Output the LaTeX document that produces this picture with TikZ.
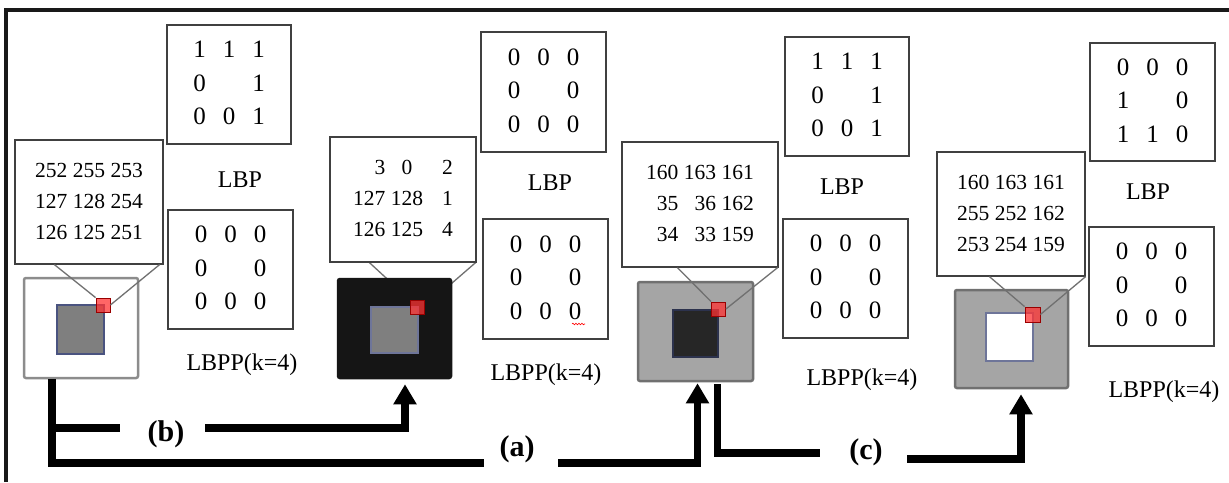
\documentclass[tikz,border=0pt]{standalone}
\usepackage{fontspec}
\setmainfont{Liberation Serif}
\usetikzlibrary{arrows.meta,calc,decorations.pathmorphing}

\newcommand{\bitmat}[8]{{\fontsize{25}{33.5}\selectfont\begin{tabular}{@{}c@{\hspace{17pt}}c@{\hspace{17pt}}c@{}}#1&#2&#3\\#4&&#5\\#6&#7&#8\end{tabular}}}
\newcommand{\pixmat}[1]{{\fontsize{21.5}{31}\selectfont\begin{tabular}{@{}r@{\hspace{5.5pt}}r@{\hspace{5.5pt}}r@{}}#1\end{tabular}}}
\newcommand{\pixmatb}[1]{{\fontsize{21.5}{31}\selectfont\begin{tabular}{@{}r@{\hspace{5.5pt}}c@{\hspace{19pt}}c@{}}#1\end{tabular}}}

\definecolor{imgborder}{HTML}{8C8C8C}
\definecolor{midgray}{HTML}{7F7F7F}
\definecolor{bluegray}{HTML}{4A5380}
\definecolor{nearblack}{HTML}{151515}
\definecolor{lightgray}{HTML}{A5A5A5}
\definecolor{darkborder}{HTML}{707070}
\definecolor{innerdark}{HTML}{262626}
\definecolor{callout}{HTML}{707070}

\pgfdeclarelayer{bglayer}
\pgfsetlayers{bglayer,main}

\tikzset{
  box/.style={draw=black!75, line width=1.2pt, inner sep=0pt, fill=white},
  matbox/.style={box, minimum width=124pt, minimum height=119pt},
  pixbox/.style={box, minimum height=124pt},
  lbltext/.style={font=\fontsize{24}{28}\selectfont, inner sep=0pt},
  tag/.style={font=\fontsize{30}{34}\selectfont\bfseries, inner sep=0pt},
  imgbox/.style={minimum width=113pt, minimum height=99pt, line width=2.5pt, rounded corners=2pt, inner sep=0pt},
  innerbox/.style={minimum width=47pt, minimum height=47pt, line width=1.3pt, inner sep=0pt},
  redbox/.style={minimum size=14pt, inner sep=0pt, fill=red!80!white, fill opacity=0.75, draw=red!60!black, line width=0.8pt},
  calloutline/.style={draw=callout, line width=1.3pt},
  conn/.style={line width=7.5pt, line join=miter, black},
  arr/.style={-{Triangle[width=22pt,length=20pt]}}
}

\begin{document}
\begin{tikzpicture}[x=1pt,y=-1pt]
\useasboundingbox (0,0) rectangle (1229,482);
\begin{pgfonlayer}{bglayer}
\fill[white] (0,0) rectangle (1229,482);
\end{pgfonlayer}

% frame (top and left edges)
\draw[line width=3.5pt, black!90] (6,482) -- (6,10) -- (1229,10);

% ---------- panel 1 ----------
\node[matbox] (lbp1) at (229,84.5) {\bitmat{1}{1}{1}{0}{1}{0}{0}{1}};
\node[pixbox, minimum width=148pt] (num1) at (89,202) {\pixmat{252&255&253\\127&128&254\\126&125&251}};
\node[matbox, minimum width=125pt] (lbpp1) at (230.5,269.5) {\bitmat{0}{0}{0}{0}{0}{0}{0}{0}};
\node[lbltext] (t1a) at (240,180) {LBP};
\node[lbltext] (t1b) at (242,365) {LBPP(k=4)};
\node[imgbox, fill=white, draw=imgborder, minimum width=114pt, minimum height=100pt] (img1) at (81,328) {};
\node[innerbox, fill=midgray, draw=bluegray, minimum height=49pt] (in1) at (80.5,329.5) {};
\node[redbox] (red1) at (103,305) {};
\draw[calloutline] ($(num1.south west)+(40,0)$) -- (red1.north west);
\draw[calloutline] ($(num1.south east)+(-4,0)$) -- (red1.east);

% ---------- panel 2 ----------
\node[matbox, minimum width=125pt, minimum height=120pt] (lbp2) at (543.5,92) {\bitmat{0}{0}{0}{0}{0}{0}{0}{0}};
\node[pixbox, minimum width=146pt, minimum height=125pt] (num2) at (403,199.5) {\pixmatb{3&0&2\\127&128&1\\126&125&4}};
\node[matbox, minimum width=125pt, minimum height=120pt] (lbpp2) at (545.5,279) {\bitmat{0}{0}{0}{0}{0}{0}{0}{0}};
\node[lbltext] (t2a) at (550,183) {LBP};
\node[lbltext] (t2b) at (546,375) {LBPP(k=4)};
\node[imgbox, fill=nearblack, draw=nearblack] (img2) at (394.5,328.5) {};
\node[innerbox, fill=midgray, draw=bluegray!80!white, minimum height=46pt] (in2) at (394.5,330) {};
\node[redbox] (red2) at (417,307) {};
\begin{pgfonlayer}{bglayer}
\draw[calloutline] ($(num2.south west)+(40,0)$) -- (red2.north west);
\draw[calloutline] ($(num2.south east)+(-1,0)$) -- (red2.east);
\end{pgfonlayer}
\draw[red, line width=0.6pt, decorate, decoration={snake, amplitude=0.8pt, segment length=3pt}] (572,324) -- (585,324);

% ---------- panel 3 ----------
\node[matbox] (lbp3) at (847,96.5) {\bitmat{1}{1}{1}{0}{1}{0}{0}{1}};
\node[pixbox, minimum width=156pt, minimum height=125pt] (num3) at (700,204.5) {\pixmat{160&163&161\\35&36&162\\34&33&159}};
\node[matbox, minimum width=125pt] (lbpp3) at (845.5,278.5) {\bitmat{0}{0}{0}{0}{0}{0}{0}{0}};
\node[lbltext] (t3a) at (842,187) {LBP};
\node[lbltext] (t3b) at (862,380) {LBPP(k=4)};
\node[imgbox, fill=lightgray, draw=darkborder, minimum width=115pt] (img3) at (695.5,331.5) {};
\node[innerbox, fill=innerdark, draw=bluegray!60!black, minimum width=45pt] (in3) at (695.5,333.5) {};
\node[redbox] (red3) at (718.5,309) {};
\draw[calloutline] ($(num3.south west)+(56,0)$) -- (red3.north west);
\draw[calloutline] ($(num3.south east)+(-1,0)$) -- (red3.east);

% ---------- panel 4 ----------
\node[matbox, minimum width=125pt, minimum height=118pt] (lbp4) at (1152.5,102) {\bitmat{0}{0}{0}{1}{0}{1}{1}{0}};
\node[pixbox, minimum width=148pt] (num4) at (1011,214) {\pixmat{160&163&161\\255&252&162\\253&254&159}};
\node[matbox, minimum width=125pt] (lbpp4) at (1151.5,286.5) {\bitmat{0}{0}{0}{0}{0}{0}{0}{0}};
\node[lbltext] (t4a) at (1148,192) {LBP};
\node[lbltext] (t4b) at (1164,392) {LBPP(k=4)};
\node[imgbox, fill=lightgray, draw=darkborder, minimum height=98pt] (img4) at (1011.5,339) {};
\node[innerbox, fill=white, draw=bluegray!80!white, minimum height=48pt] (in4) at (1009.5,337) {};
\node[redbox, minimum size=15pt] (red4) at (1032.5,314.5) {};
\draw[calloutline] ($(num4.south west)+(53,0)$) -- (red4.north west);
\draw[calloutline] (num4.south east) -- (red4.east);

% ---------- connectors ----------
\node[tag] (lb) at (166,434) {(b)};
\node[tag] (la) at (517,449) {(a)};
\node[tag] (lc) at (866,452) {(c)};
\coordinate (b1) at (120,428);
\coordinate (b2) at (205,428);
\coordinate (a1) at (484,463);
\coordinate (a2) at (558,463);
\coordinate (c1) at (820,453);
\coordinate (c2) at (907,459);

\draw[conn] ($(img1.south west)+(29,0)$) |- (a1);
\draw[conn] ($(img1.south west)+(29,0)$) |- (b1);
\draw[conn,arr] (b2) -| ($(img2.south)+(10.5,5)$);
\draw[conn,arr] (a2) -| ($(img3.south)+(2,1)$);
\draw[conn] ($(img3.south)+(22,2)$) |- (c1);
\draw[conn,arr] (c2) -| ($(img4.south)+(9.5,5)$);
\end{tikzpicture}
\end{document}
